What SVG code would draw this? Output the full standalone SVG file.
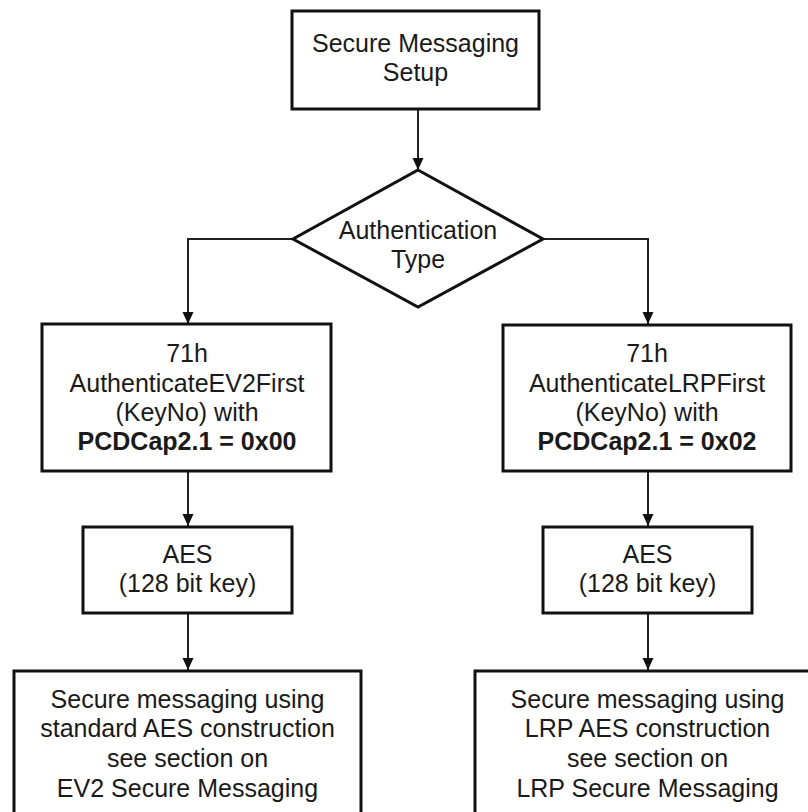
<svg xmlns="http://www.w3.org/2000/svg" width="808" height="812" viewBox="0 0 808 812">
  <defs>
    <marker id="arrow" viewBox="0 0 12 12" refX="12" refY="6" markerWidth="12" markerHeight="12" orient="auto" markerUnits="userSpaceOnUse">
      <path d="M0,0.5 L12,6 L0,11.5 z" fill="#111"/>
    </marker>
    <style>
      .box { fill: #fff; stroke: #111; stroke-width: 3; }
      .conn { fill: none; stroke: #222; stroke-width: 2; marker-end: url(#arrow); }
      text { font-family: "Liberation Sans", Arial, sans-serif; font-size: 25px; fill: #1a1a1a; text-anchor: middle; }
      .bold { font-weight: bold; }
    </style>
  </defs>
  <rect width="808" height="812" fill="#fff"/>

  <g id="connectors">
    <path class="conn" d="M418,109 L418,170"/>
    <path class="conn" d="M293,239 L188,239 L188,324"/>
    <path class="conn" d="M542,239 L648,239 L648,324"/>
    <path class="conn" d="M188,471 L188,526"/>
    <path class="conn" d="M648,471 L648,526"/>
    <path class="conn" d="M188,613 L188,670"/>
    <path class="conn" d="M648,613 L648,670"/>
  </g>

  <g id="setup">
    <rect class="box" x="292" y="11" width="247" height="98"/>
    <text x="415.5" y="52">Secure Messaging</text>
    <text x="415.5" y="81">Setup</text>
  </g>

  <g id="auth-type">
    <polygon class="box" points="418,170 543,239 418,307 293,239"/>
    <text x="418" y="239">Authentication</text>
    <text x="418" y="268">Type</text>
  </g>

  <g id="ev2-first">
    <rect class="box" x="42" y="324" width="289" height="147"/>
    <text x="187" y="362">71h</text>
    <text x="187" y="392">AuthenticateEV2First</text>
    <text x="187" y="421">(KeyNo) with</text>
    <text class="bold" x="187" y="450">PCDCap2.1 = 0x00</text>
  </g>

  <g id="lrp-first">
    <rect class="box" x="503" y="325" width="288" height="146"/>
    <text x="647" y="362">71h</text>
    <text x="647" y="392">AuthenticateLRPFirst</text>
    <text x="647" y="421">(KeyNo) with</text>
    <text class="bold" x="647" y="450">PCDCap2.1 = 0x02</text>
  </g>

  <g id="aes-left">
    <rect class="box" x="83" y="527" width="209" height="86"/>
    <text x="187.5" y="563">AES</text>
    <text x="187.5" y="592">(128 bit key)</text>
  </g>

  <g id="aes-right">
    <rect class="box" x="543" y="527" width="209" height="86"/>
    <text x="647.5" y="563">AES</text>
    <text x="647.5" y="592">(128 bit key)</text>
  </g>

  <g id="sm-ev2">
    <rect class="box" x="14" y="671" width="347" height="160"/>
    <text x="187.5" y="708">Secure messaging using</text>
    <text x="187.5" y="737">standard AES construction</text>
    <text x="187.5" y="767">see section on</text>
    <text x="187.5" y="797">EV2 Secure Messaging</text>
  </g>

  <g id="sm-lrp">
    <rect class="box" x="475" y="671" width="346" height="160"/>
    <text x="647.5" y="708">Secure messaging using</text>
    <text x="647.5" y="737">LRP AES construction</text>
    <text x="647.5" y="767">see section on</text>
    <text x="647.5" y="797">LRP Secure Messaging</text>
  </g>
</svg>
